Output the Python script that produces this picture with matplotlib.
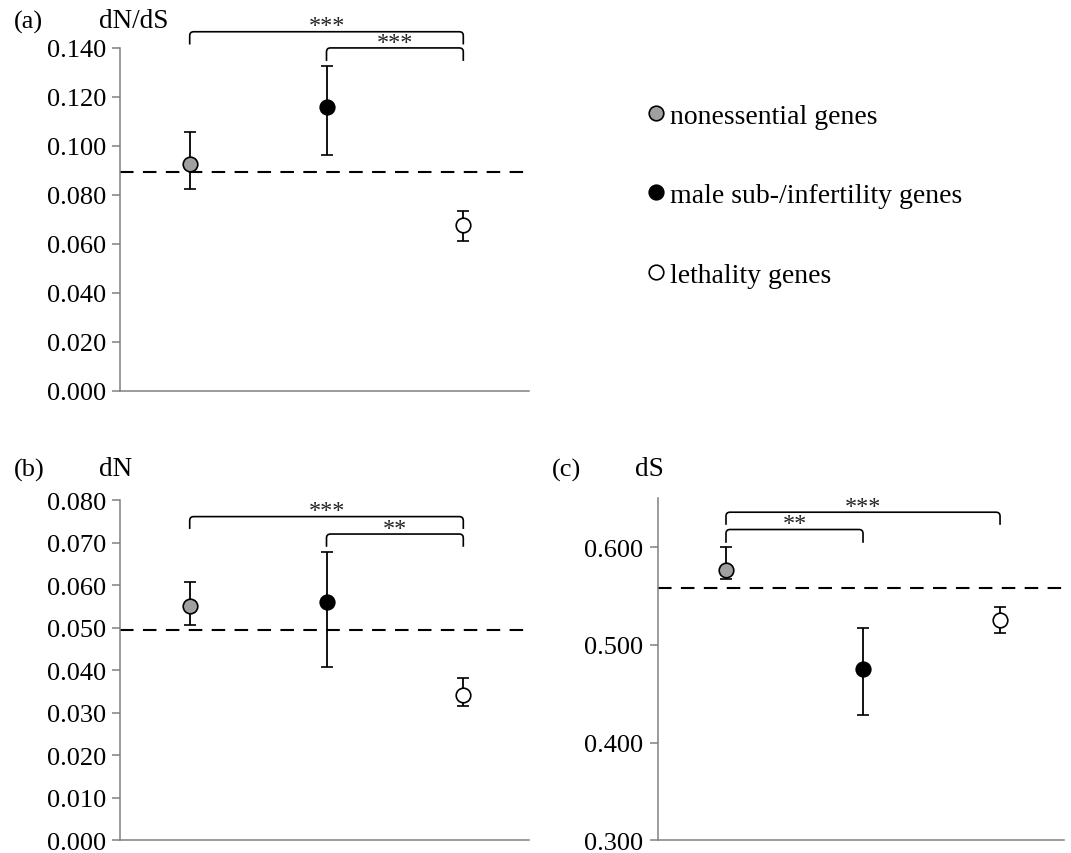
import matplotlib
matplotlib.use("Agg")
import matplotlib.pyplot as plt
from matplotlib.path import Path
from matplotlib.patches import PathPatch
import numpy as np

plt.rcParams['font.family'] = ['Liberation Serif', 'DejaVu Serif']

groups = ['nonessential genes', 'male sub-/infertility genes', 'lethality genes']
face_colors = ['#a0a0a0', 'black', 'white']

# dN/dS
dnds = [0.0926, 0.1159, 0.0678]
dnds_lo = [0.0824, 0.0962, 0.0612]
dnds_hi = [0.1056, 0.1327, 0.0734]
dnds_all = 0.0893

# dN
dn = [0.0551, 0.0559, 0.0342]
dn_lo = [0.0507, 0.0406, 0.0315]
dn_hi = [0.0607, 0.0678, 0.0382]
dn_all = 0.0495

# dS
ds = [0.5765, 0.4749, 0.5260]
ds_lo = [0.5670, 0.4279, 0.5127]
ds_hi = [0.6000, 0.5168, 0.5386]
ds_all = 0.558

# significance brackets: (from group, to group, level, leg end, stars)
sig_a = [(0, 2, 0.1465, 0.1413, '***'), (1, 2, 0.1399, 0.1346, '***')]
sig_b = [(0, 2, 0.0761, 0.0732, '***'), (1, 2, 0.0720, 0.0690, '**')]
sig_c = [(0, 2, 0.6358, 0.6229, '***'), (0, 1, 0.6181, 0.6045, '**')]

AXCOL = '#808080'


def bracket(ax, x0, x1, y, yleg, text):
    # rounded corner radius in data units (about 4 px)
    bb = ax.get_window_extent()
    xl, yl = ax.get_xlim(), ax.get_ylim()
    rx = 4 * (xl[1] - xl[0]) / bb.width
    ry = 4 * (yl[1] - yl[0]) / bb.height
    verts = [(x0, yleg), (x0, y - ry), (x0, y), (x0 + rx, y),
             (x1 - rx, y), (x1, y), (x1, y - ry), (x1, yleg)]
    codes = [Path.MOVETO, Path.LINETO, Path.CURVE3, Path.CURVE3,
             Path.LINETO, Path.CURVE3, Path.CURVE3, Path.LINETO]
    ax.add_patch(PathPatch(Path(verts, codes), fill=False, lw=1.2,
                           color='black', clip_on=False))
    ax.text((x0 + x1) / 2, y + ry * 0.1, text, ha='center', va='baseline',
            fontsize=17.5, color='#222222', clip_on=False)


def panel(ax, vals, lo, hi, allv, ylim, ticks, xlim, sigs):
    x = np.arange(len(vals))
    ax.set_xlim(*xlim)
    ax.set_ylim(*ylim)
    ax.axhline(allv, color='black', lw=1.5, dashes=(6.5, 4.5))
    for i in range(len(vals)):
        ax.errorbar(x[i], vals[i],
                    yerr=[[vals[i] - lo[i]], [hi[i] - vals[i]]],
                    fmt='o', ms=10.5, mfc=face_colors[i], mec='black', mew=1.2,
                    ecolor='black', elinewidth=1.3, capsize=4.5, capthick=1.3,
                    label=groups[i], zorder=3)
    ax.set_yticks(ticks)
    ax.set_yticklabels(['{:.3f}'.format(t) for t in ticks])
    ax.set_xticks([])
    for s in ['top', 'right']:
        ax.spines[s].set_visible(False)
    for s in ['left', 'bottom']:
        ax.spines[s].set_color(AXCOL)
        ax.spines[s].set_linewidth(1.1)
    ax.tick_params(axis='y', length=5.5, width=1.1, color=AXCOL,
                   labelsize=19, pad=5)
    for x0, x1, y, yleg, t in sigs:
        bracket(ax, x0, x1, y, yleg, t)


fig = plt.figure(figsize=(10.71, 8.54), dpi=100)
ax_a = fig.add_axes([0.1125, 0.541, 0.3814, 0.402])
ax_b = fig.add_axes([0.1125, 0.0152, 0.3814, 0.3981])
ax_c = fig.add_axes([0.6144, 0.0148, 0.3791, 0.4005])

panel(ax_a, dnds, dnds_lo, dnds_hi, dnds_all, (0, 0.14),
      np.arange(0, 0.1401, 0.02), (-0.506, 2.48), sig_a)
panel(ax_b, dn, dn_lo, dn_hi, dn_all, (0, 0.08),
      np.arange(0, 0.0801, 0.01), (-0.506, 2.48), sig_b)
panel(ax_c, ds, ds_lo, ds_hi, ds_all, (0.3, 0.65),
      [0.3, 0.4, 0.5, 0.6], (-0.496, 2.467), sig_c)

fig.text(0.0129, 1 - 22 / 854, '(a)', fontsize=19, va='center')
fig.text(0.092, 1 - 22 / 854, 'dN/dS', fontsize=19.5, va='center')
fig.text(0.0129, 1 - 470 / 854, '(b)', fontsize=19, va='center')
fig.text(0.092, 1 - 470 / 854, 'dN', fontsize=19.5, va='center')
fig.text(0.5154, 1 - 470 / 854, '(c)', fontsize=19, va='center')
fig.text(0.5932, 1 - 470 / 854, 'dS', fontsize=19.5, va='center')

handles, labels = ax_a.get_legend_handles_labels()
handles = [h[0] for h in handles]
fig.legend(handles, labels, loc='center left', bbox_to_anchor=(0.602, 0.770),
           frameon=False, fontsize=20, markerscale=1.0, handlelength=0.8,
           handletextpad=0.11, labelspacing=1.95, borderpad=0,
           borderaxespad=0)

fig.savefig('out.png', dpi=100)
